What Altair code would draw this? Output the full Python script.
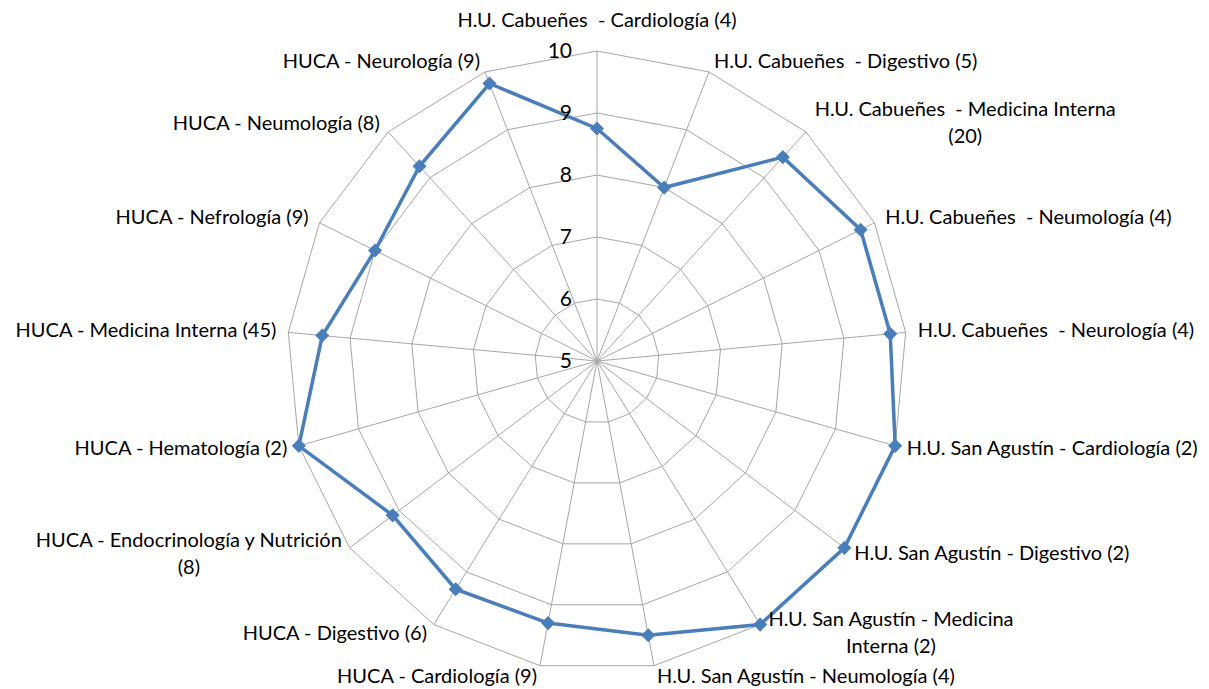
import math
import altair as alt
import pandas as pd

# ---------------- data ----------------
categories = [
    "H.U. Cabueñes\u00a0 - Cardiología (4)",
    "H.U. Cabueñes\u00a0 - Digestivo (5)",
    "H.U. Cabueñes\u00a0 - Medicina Interna\n(20)",
    "H.U. Cabueñes\u00a0 - Neumología (4)",
    "H.U. Cabueñes\u00a0 - Neurología (4)",
    "H.U. San Agustín - Cardiología (2)",
    "H.U. San Agustín - Digestivo (2)",
    "H.U. San Agustín - Medicina\nInterna (2)",
    "H.U. San Agustín - Neumología (4)",
    "HUCA - Cardiología (9)",
    "HUCA - Digestivo (6)",
    "HUCA - Endocrinología y Nutrición\n(8)",
    "HUCA - Hematología (2)",
    "HUCA - Medicina Interna (45)",
    "HUCA - Nefrología (9)",
    "HUCA - Neumología (8)",
    "HUCA - Neurología (9)",
]
values = [8.75, 8.0, 9.45, 9.75, 9.75, 10.0, 10.0, 10.0, 9.5,
          9.3, 9.33, 9.13, 10.0, 9.45, 9.0, 9.25, 9.8]
tick_levels = [5, 6, 7, 8, 9, 10]
tick_labels = ["5", "6", "7", "8", "9", "10"]

N = len(categories)
R_MIN, R_MAX = 5, 10

# ---------------- layout ----------------
UNIT = 62.0                 # px per value unit
CX, CY = 589.0, 353.0       # centre inside the chart
W, H = 1193, 681
LABEL_GAP = 11.0 / UNIT     # label distance outside outer ring

x_scale = alt.Scale(domain=[-CX / UNIT, (W - CX) / UNIT], nice=False, zero=False)
y_scale = alt.Scale(domain=[(CY - H) / UNIT, CY / UNIT], nice=False, zero=False)

GRID = "#a6a6a6"
BLUE = "#4a7ebb"
FONT = "Lato"
LAB_SIZE = 20
LINE_H = 27

ANG = f"2*PI*datum.i/{N}"

# grid rings
ring_df = pd.DataFrame(
    [{"level": lv, "i": i} for lv in tick_levels[1:] for i in range(N + 1)]
)
rings = (
    alt.Chart(ring_df)
    .transform_calculate(r=f"datum.level-{R_MIN}")
    .transform_calculate(x=f"datum.r*sin({ANG})", y=f"datum.r*cos({ANG})")
    .mark_line(color=GRID, strokeWidth=1)
    .encode(
        x=alt.X("x:Q", scale=x_scale, axis=None),
        y=alt.Y("y:Q", scale=y_scale, axis=None),
        detail="level:N",
        order="i:Q",
    )
)

# spokes
spoke_df = pd.DataFrame({"i": list(range(N))})
spokes = (
    alt.Chart(spoke_df)
    .transform_calculate(
        x0="0", y0="0",
        x=f"{R_MAX - R_MIN}*sin({ANG})", y=f"{R_MAX - R_MIN}*cos({ANG})",
    )
    .mark_rule(color=GRID, strokeWidth=1)
    .encode(
        x=alt.X("x0:Q", scale=x_scale, axis=None),
        y=alt.Y("y0:Q", scale=y_scale, axis=None),
        x2="x:Q",
        y2="y:Q",
    )
)

# data series
series_df = pd.DataFrame({
    "i": list(range(N + 1)),
    "v": values + [values[0]],
})
series_base = alt.Chart(series_df).transform_calculate(
    r=f"datum.v-{R_MIN}"
).transform_calculate(x=f"datum.r*sin({ANG})", y=f"datum.r*cos({ANG})")

line = series_base.mark_line(color=BLUE, strokeWidth=3.5).encode(
    x=alt.X("x:Q", scale=x_scale, axis=None),
    y=alt.Y("y:Q", scale=y_scale, axis=None),
    order="i:Q",
)
points = series_base.transform_filter(f"datum.i < {N}").mark_point(
    shape="diamond", filled=True, size=200, color=BLUE, opacity=1
).encode(
    x=alt.X("x:Q", scale=x_scale, axis=None),
    y=alt.Y("y:Q", scale=y_scale, axis=None),
)

# tick labels
tick_df = pd.DataFrame({"level": tick_levels, "t": tick_labels})
ticks = (
    alt.Chart(tick_df)
    .transform_calculate(x0="0", y=f"datum.level-{R_MIN}")
    .mark_text(align="right", baseline="middle", dx=-25, dy=1,
               font=FONT, fontSize=21, color="#000000")
    .encode(
        x=alt.X("x0:Q", scale=x_scale, axis=None),
        y=alt.Y("y:Q", scale=y_scale, axis=None),
        text="t:N",
    )
)

# category labels
lab_df = pd.DataFrame({"i": list(range(N)), "label": categories})
lab_base = alt.Chart(lab_df).transform_calculate(
    r=f"{R_MAX - R_MIN}+{LABEL_GAP}", s=f"sin({ANG})",
    wrapped="indexof(datum.label, '\\n') >= 0",
).transform_calculate(x=f"datum.r*sin({ANG})", y=f"datum.r*cos({ANG})")


def lab_layer(filter_expr, **kw):
    return lab_base.transform_filter(filter_expr).mark_text(
        baseline="middle", font=FONT, fontSize=LAB_SIZE, color="#000000",
        lineBreak="\n", lineHeight=LINE_H, **kw
    ).encode(
        x=alt.X("x:Q", scale=x_scale, axis=None),
        y=alt.Y("y:Q", scale=y_scale, axis=None),
        text="label:N",
    )


labels_right = lab_layer("datum.s > 0.05 && !datum.wrapped", align="left", dx=1)
labels_left = lab_layer("datum.s < -0.05 && !datum.wrapped", align="right", dx=-1)
labels_top = lab_layer("abs(datum.s) <= 0.05", align="center", dy=-19)
# wrapped labels: lines centred within their block
wrap1 = lab_layer("datum.i == 2", align="center", dx=152, dy=-LINE_H / 2)
wrap2 = lab_layer("datum.i == 7", align="center", dx=125, dy=-LINE_H / 2)
wrap3 = lab_layer("datum.i == 11", align="center", dx=-152, dy=-LINE_H / 2)

chart = (
    alt.layer(rings, spokes, line, points, ticks,
              labels_right, labels_left, labels_top, wrap1, wrap2, wrap3)
    .properties(width=W, height=H, padding=0,
                autosize=alt.AutoSizeParams(type="none"))
    .configure_view(strokeWidth=0, stroke="transparent", strokeOpacity=0)
)

chart.save("out.html", embed_options={"renderer": "svg", "actions": False})
